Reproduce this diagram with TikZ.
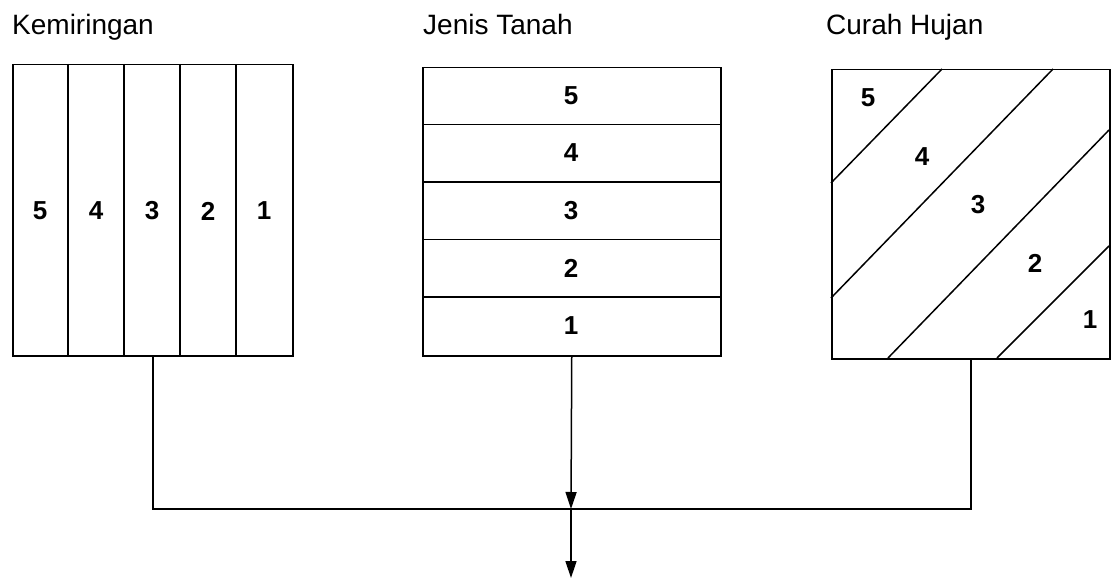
\documentclass[tikz,border=0pt]{standalone}
\usepackage{fontspec}
\setmainfont{Liberation Sans}
\usetikzlibrary{arrows.meta}
\begin{document}
\begin{tikzpicture}[x=1pt,y=-1pt,
  box/.style={draw,line width=1.5pt,inner sep=0pt,anchor=north west},
  ln/.style={line width=1.5pt},
  title/.style={anchor=base west,inner sep=0pt,font=\fontsize{28}{30}\selectfont},
  num/.style={inner sep=0pt,font=\fontsize{26}{28}\selectfont\bfseries},
  arr/.style={line width=1.5pt,-{Triangle[width=11pt,length=17pt]}}]
\useasboundingbox (0,0) rectangle (1114,580);
% titles
\node[title] (t1) at (12,35) {Kemiringan};
\node[title] (t2) at (423,35) {Jenis Tanah};
\node[title] (t3) at (826,35) {Curah Hujan};
% boxes
\node[box,minimum width=280pt,minimum height=291pt] (kem) at (12,64) {};
\node[box,minimum width=298pt,minimum height=288pt] (jen) at (422,67) {};
\node[box,minimum width=278pt,minimum height=289pt] (cur) at (831,69) {};
% Kemiringan columns
\foreach \x in {68,124,180,236} \draw[ln] (\x,64) -- (\x,355);
\foreach \x/\t in {40/5,96/4,152/3,208/2,264/1} \node[num] (k\t) at (\x,211) {\t};
% Jenis Tanah rows
\foreach \y in {124.5,182,239.5,297} \draw[ln] (422,\y) -- (720,\y);
\foreach \y/\t in {96/5,153/4,211/3,268/2,326/1} \node[num] (j\t) at (571,\y) {\t};
% Curah Hujan diagonals
\draw[ln] (831,183) -- (942,69);
\draw[ln] (831,298) -- (1053,69);
\draw[ln] (888,358) -- (1109,130);
\draw[ln] (997,358) -- (1109,246);
\node[num] (c5) at (868,98) {5};
\node[num] (c4) at (922,157) {4};
\node[num] (c3) at (978,205) {3};
\node[num] (c2) at (1035,263) {2};
\node[num] (c1) at (1090,320) {1};
% connectors
\coordinate (j) at (571,509);
\coordinate (out) at (571,578);
\draw[ln] (kem.south) -- (kem.south |- j) -- (cur.south |- j) -- (cur.south);
\draw[arr] (jen.south) -- (j);
\draw[arr] (j) -- (out);
\end{tikzpicture}
\end{document}
